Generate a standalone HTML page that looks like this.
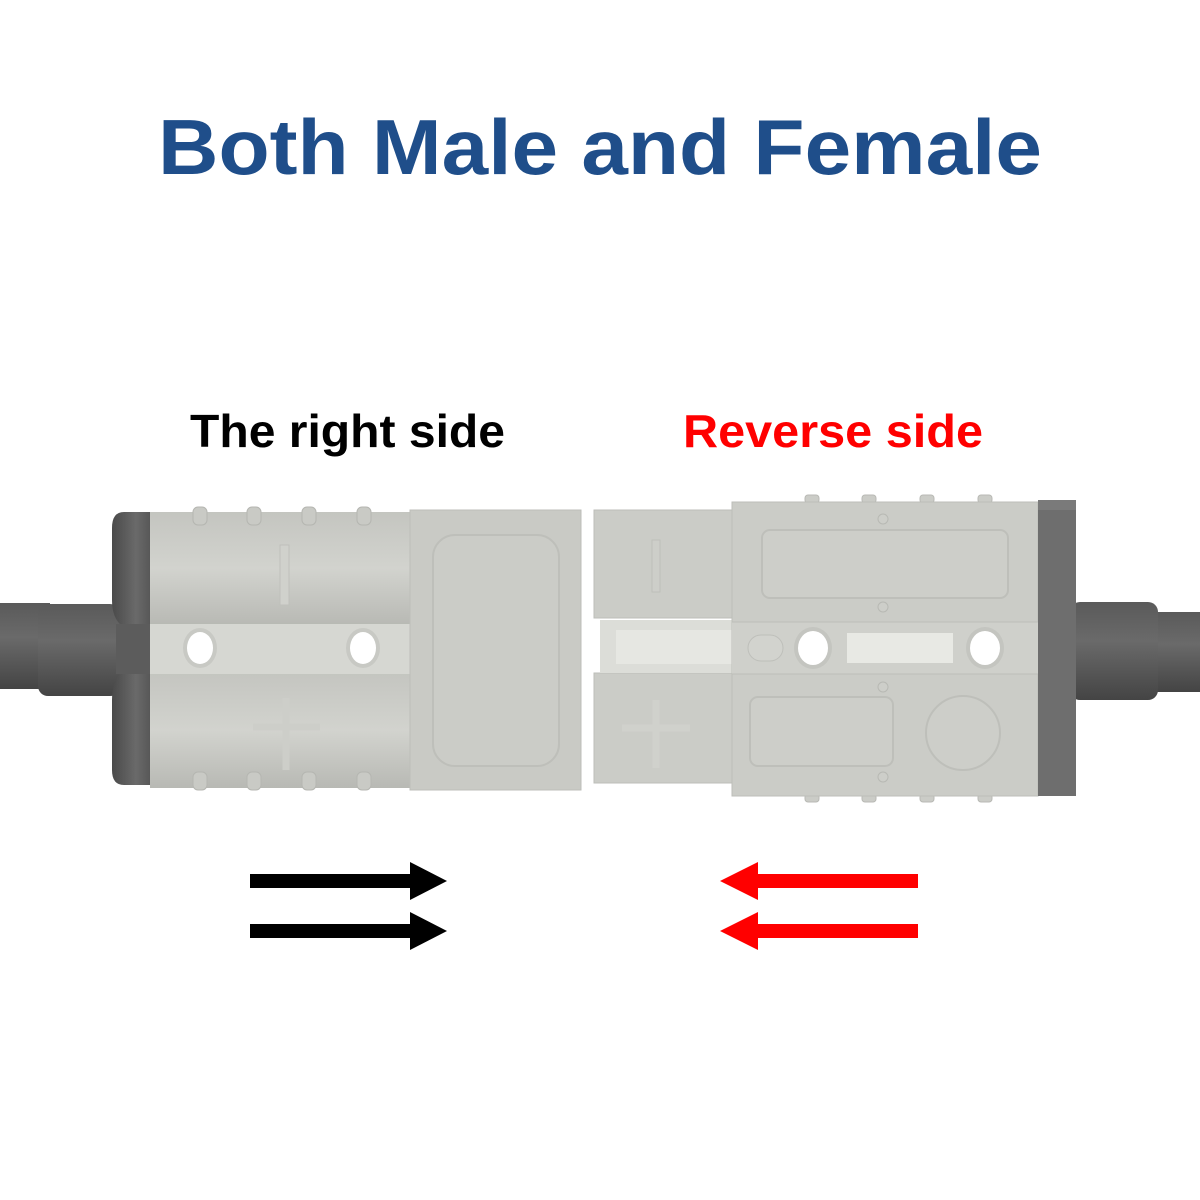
<!DOCTYPE html>
<html><head><meta charset="utf-8"><style>html,body{margin:0;padding:0;background:#fff}svg{display:block}</style></head>
<body>
<svg width="1200" height="1200" viewBox="0 0 1200 1200" xmlns="http://www.w3.org/2000/svg">
<defs>
<linearGradient id="cab" x1="0" y1="0" x2="0" y2="1"><stop offset="0" stop-color="#5a5a5a"/><stop offset="0.4" stop-color="#6a6a6a"/><stop offset="1" stop-color="#444"/></linearGradient>
<linearGradient id="cap" x1="0" y1="0" x2="1" y2="0"><stop offset="0" stop-color="#4a4a4a"/><stop offset="0.6" stop-color="#6a6a6a"/><stop offset="1" stop-color="#555"/></linearGradient>
<linearGradient id="lobe" x1="0" y1="0" x2="0" y2="1"><stop offset="0" stop-color="#c4c5c0"/><stop offset="0.5" stop-color="#d2d3ce"/><stop offset="1" stop-color="#b8b9b4"/></linearGradient>
</defs>
<text x="600" y="174" text-anchor="middle" font-family="Liberation Sans, sans-serif" font-weight="bold" font-size="78" fill="#1f4e8a" textLength="884" lengthAdjust="spacingAndGlyphs">Both Male and Female</text>
<text x="190" y="447" font-family="Liberation Sans, sans-serif" font-weight="bold" font-size="46" fill="#000" textLength="315" lengthAdjust="spacingAndGlyphs">The right side</text>
<text x="683" y="447" font-family="Liberation Sans, sans-serif" font-weight="bold" font-size="46" fill="#ff0000" textLength="300" lengthAdjust="spacingAndGlyphs">Reverse side</text>

<!-- left connector -->
<rect x="0" y="603" width="50" height="86" fill="url(#cab)"/>
<rect x="38" y="604" width="82" height="92" rx="10" fill="url(#cab)"/>
<path d="M124 512 H152 V785 H124 Q112 785 112 770 V700 Q112 680 122 672 V626 Q112 618 112 600 V528 Q112 512 124 512Z" fill="url(#cap)"/>
<rect x="116" y="624" width="36" height="50" fill="#5c5c5c"/>
<rect x="150" y="512" width="262" height="113" fill="url(#lobe)"/>
<rect x="150" y="673" width="262" height="115" fill="url(#lobe)"/>
<rect x="150" y="624" width="262" height="50" fill="#d6d7d2"/>
<g fill="#c9cac5" stroke="#b5b6b1" stroke-width="1">
<rect x="193" y="507" width="14" height="18" rx="5"/><rect x="247" y="507" width="14" height="18" rx="5"/><rect x="302" y="507" width="14" height="18" rx="5"/><rect x="357" y="507" width="14" height="18" rx="5"/>
<rect x="193" y="772" width="14" height="18" rx="5"/><rect x="247" y="772" width="14" height="18" rx="5"/><rect x="302" y="772" width="14" height="18" rx="5"/><rect x="357" y="772" width="14" height="18" rx="5"/>
</g>
<rect x="280" y="545" width="9" height="60" fill="#d0d1cc" stroke="#bfc0bb"/>
<path d="M286 698 V770 M253 727 H320" stroke="#cdcec9" stroke-width="7"/>
<ellipse cx="200" cy="648" rx="17" ry="20" fill="#c8c9c4"/><ellipse cx="200" cy="648" rx="13" ry="16" fill="#fff"/>
<ellipse cx="363" cy="648" rx="17" ry="20" fill="#c8c9c4"/><ellipse cx="363" cy="648" rx="13" ry="16" fill="#fff"/>
<rect x="410" y="510" width="171" height="280" fill="#c9cac5" stroke="#bdbeb9"/>
<rect x="433" y="535" width="126" height="231" rx="22" fill="#cbccc7" stroke="#bebfba" stroke-width="2"/>

<!-- right connector -->
<rect x="1150" y="612" width="50" height="80" fill="url(#cab)"/>
<rect x="1070" y="602" width="88" height="98" rx="10" fill="url(#cab)"/>
<rect x="594" y="510" width="140" height="108" fill="#cbccc7" stroke="#bdbeb9"/>
<rect x="594" y="673" width="140" height="110" fill="#cbccc7" stroke="#bdbeb9"/>
<rect x="600" y="620" width="134" height="53" fill="#dcddd8"/>
<rect x="616" y="630" width="118" height="34" fill="#e6e7e2"/>
<rect x="652" y="540" width="8" height="52" fill="#cdcec9" stroke="#bebfba"/>
<path d="M656 700 V768 M622 728 H690" stroke="#d0d1cc" stroke-width="7"/>
<g fill="#cbccc7" stroke="#b8b9b4">
<rect x="805" y="495" width="14" height="8" rx="3"/><rect x="862" y="495" width="14" height="8" rx="3"/><rect x="920" y="495" width="14" height="8" rx="3"/><rect x="978" y="495" width="14" height="8" rx="3"/>
<rect x="805" y="794" width="14" height="8" rx="3"/><rect x="862" y="794" width="14" height="8" rx="3"/><rect x="920" y="794" width="14" height="8" rx="3"/><rect x="978" y="794" width="14" height="8" rx="3"/>
</g>
<rect x="732" y="502" width="306" height="294" fill="#cbccc7" stroke="#bdbeb9"/>
<rect x="732" y="622" width="306" height="52" fill="#cfd0cb"/>
<line x1="732" y1="622" x2="1038" y2="622" stroke="#bdbeb9"/>
<line x1="732" y1="674" x2="1038" y2="674" stroke="#bdbeb9"/>
<rect x="762" y="530" width="246" height="68" rx="8" fill="#cdcec9" stroke="#bebfba" stroke-width="2"/>
<rect x="750" y="697" width="143" height="69" rx="8" fill="#cdcec9" stroke="#bebfba" stroke-width="2"/>
<circle cx="963" cy="733" r="37" fill="#cdcec9" stroke="#bebfba" stroke-width="2"/>
<g fill="#cdcec9" stroke="#b8b9b4"><circle cx="883" cy="519" r="5"/><circle cx="883" cy="607" r="5"/><circle cx="883" cy="687" r="5"/><circle cx="883" cy="777" r="5"/></g>
<rect x="748" y="635" width="35" height="26" rx="13" fill="#d2d3ce" stroke="#bebfba"/>
<ellipse cx="813" cy="648" rx="19" ry="21" fill="#c4c5c0"/><ellipse cx="813" cy="648" rx="15" ry="17" fill="#fff"/>
<rect x="847" y="633" width="106" height="30" fill="#e8e9e4"/>
<ellipse cx="985" cy="648" rx="19" ry="21" fill="#c4c5c0"/><ellipse cx="985" cy="648" rx="15" ry="17" fill="#fff"/>
<rect x="1038" y="500" width="38" height="296" fill="#6e6e6e"/>
<rect x="1038" y="500" width="38" height="10" fill="#7a7a7a"/>

<!-- arrows -->
<g fill="#000"><rect x="250" y="874" width="165" height="14"/><polygon points="410,862 447,881 410,900"/>
<rect x="250" y="924" width="165" height="14"/><polygon points="410,912 447,931 410,950"/></g>
<g fill="#ff0000"><rect x="752" y="874" width="166" height="14"/><polygon points="758,862 720,881 758,900"/>
<rect x="752" y="924" width="166" height="14"/><polygon points="758,912 720,931 758,950"/></g>
</svg>
</body></html>
